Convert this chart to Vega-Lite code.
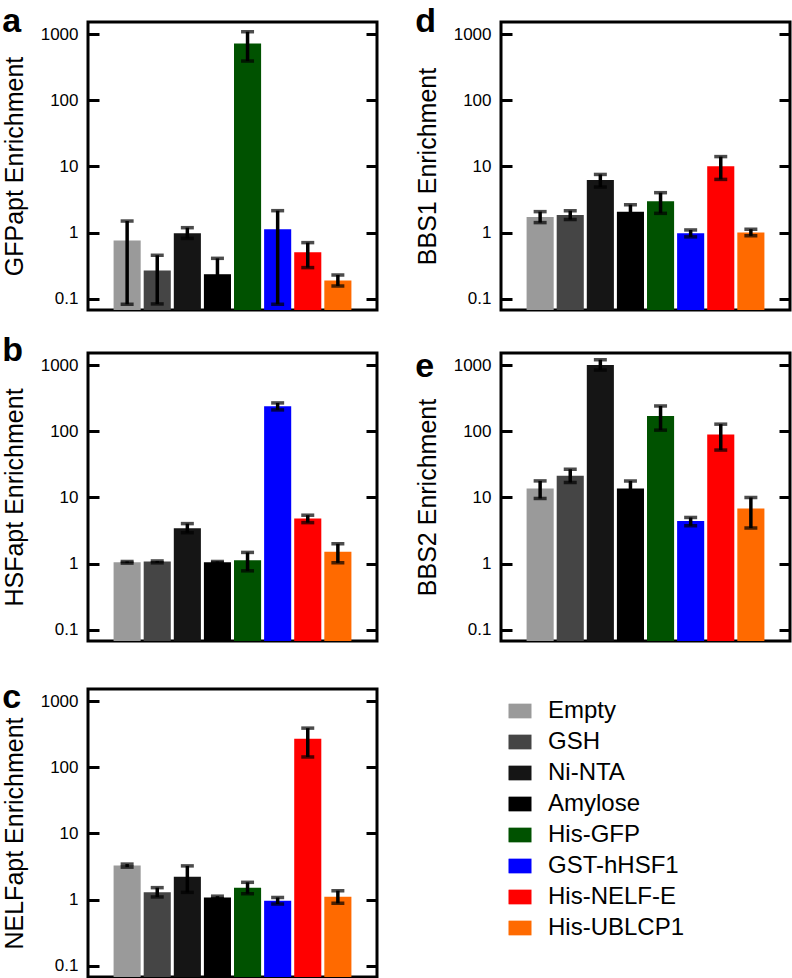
{
  "$schema": "https://vega.github.io/schema/vega-lite/v6.json",
  "background": "white",
  "padding": {"left": 0, "top": 3, "right": 0, "bottom": 0},
  "data": {"values": [
    {"panel": "a", "group": "Empty", "value": 0.76, "lo": 0.083, "hi": 1.5},
    {"panel": "a", "group": "GSH", "value": 0.268, "lo": 0.084, "hi": 0.456},
    {"panel": "a", "group": "Ni-NTA", "value": 0.98, "lo": 0.82, "hi": 1.19},
    {"panel": "a", "group": "Amylose", "value": 0.236, "lo": 0.14, "hi": 0.41},
    {"panel": "a", "group": "His-GFP", "value": 722, "lo": 391, "hi": 1084},
    {"panel": "a", "group": "GST-hHSF1", "value": 1.13, "lo": 0.083, "hi": 2.15},
    {"panel": "a", "group": "His-NELF-E", "value": 0.506, "lo": 0.297, "hi": 0.708},
    {"panel": "a", "group": "His-UBLCP1", "value": 0.189, "lo": 0.157, "hi": 0.23},
    {"panel": "b", "group": "Empty", "value": 1.05, "lo": 1.02, "hi": 1.08},
    {"panel": "b", "group": "GSH", "value": 1.08, "lo": 1.03, "hi": 1.1},
    {"panel": "b", "group": "Ni-NTA", "value": 3.42, "lo": 2.94, "hi": 4.03},
    {"panel": "b", "group": "Amylose", "value": 1.05, "lo": 1.03, "hi": 1.08},
    {"panel": "b", "group": "His-GFP", "value": 1.13, "lo": 0.78, "hi": 1.48},
    {"panel": "b", "group": "GST-hHSF1", "value": 238, "lo": 210, "hi": 268},
    {"panel": "b", "group": "His-NELF-E", "value": 4.8, "lo": 4.17, "hi": 5.4},
    {"panel": "b", "group": "His-UBLCP1", "value": 1.51, "lo": 1.03, "hi": 2.0},
    {"panel": "c", "group": "Empty", "value": 3.27, "lo": 3.1, "hi": 3.45},
    {"panel": "c", "group": "GSH", "value": 1.29, "lo": 1.1, "hi": 1.52},
    {"panel": "c", "group": "Ni-NTA", "value": 2.23, "lo": 1.29, "hi": 3.24},
    {"panel": "c", "group": "Amylose", "value": 1.08, "lo": 1.04, "hi": 1.13},
    {"panel": "c", "group": "His-GFP", "value": 1.52, "lo": 1.23, "hi": 1.83},
    {"panel": "c", "group": "GST-hHSF1", "value": 0.966, "lo": 0.86, "hi": 1.08},
    {"panel": "c", "group": "His-NELF-E", "value": 269, "lo": 143, "hi": 390},
    {"panel": "c", "group": "His-UBLCP1", "value": 1.11, "lo": 0.88, "hi": 1.37},
    {"panel": "d", "group": "Empty", "value": 1.73, "lo": 1.42, "hi": 2.08},
    {"panel": "d", "group": "GSH", "value": 1.85, "lo": 1.58, "hi": 2.15},
    {"panel": "d", "group": "Ni-NTA", "value": 6.23, "lo": 4.89, "hi": 7.58},
    {"panel": "d", "group": "Amylose", "value": 2.08, "lo": 1.63, "hi": 2.65},
    {"panel": "d", "group": "His-GFP", "value": 2.98, "lo": 1.96, "hi": 4.02},
    {"panel": "d", "group": "GST-hHSF1", "value": 0.98, "lo": 0.865, "hi": 1.1},
    {"panel": "d", "group": "His-NELF-E", "value": 10.1, "lo": 6.38, "hi": 14.1},
    {"panel": "d", "group": "His-UBLCP1", "value": 1.01, "lo": 0.896, "hi": 1.13},
    {"panel": "e", "group": "Empty", "value": 13.7, "lo": 9.66, "hi": 17.8},
    {"panel": "e", "group": "GSH", "value": 21.2, "lo": 16.8, "hi": 26.7},
    {"panel": "e", "group": "Ni-NTA", "value": 1000, "lo": 841, "hi": 1203},
    {"panel": "e", "group": "Amylose", "value": 13.7, "lo": 10.4, "hi": 17.8},
    {"panel": "e", "group": "His-GFP", "value": 170, "lo": 104, "hi": 241},
    {"panel": "e", "group": "GST-hHSF1", "value": 4.4, "lo": 3.74, "hi": 4.99},
    {"panel": "e", "group": "His-NELF-E", "value": 89, "lo": 52, "hi": 128},
    {"panel": "e", "group": "His-UBLCP1", "value": 6.82, "lo": 3.45, "hi": 10}
  ]},
  "resolve": {"scale": {"color": "shared"}, "legend": {"color": "shared"}},
  "spacing": 36,
  "vconcat": [
    {
      "spacing": 20,
      "resolve": {"scale": {"color": "shared"}, "legend": {"color": "shared"}},
      "vconcat": [
        {
          "spacing": 33,
          "resolve": {"scale": {"color": "shared"}, "legend": {"color": "shared"}},
          "hconcat": [
            {
              "title": {"text": "a", "offset": -14, "dy": 3},
              "width": 289, "height": 288,
              "transform": [{"filter": "datum.panel === 'a'"}],
              "encoding": {"x": {"field": "group", "type": "nominal", "sort": ["Empty","GSH","Ni-NTA","Amylose","His-GFP","GST-hHSF1","His-NELF-E","His-UBLCP1"], "axis": null, "scale": {"paddingInner": 0.1, "paddingOuter": 0.85}}},
              "resolve": {"axis": {"y": "independent"}},
              "layer": [
                {"mark": {"type": "bar"}, "encoding": {
                  "y": {"field": "value", "type": "quantitative", "scale": {"type": "log", "domain": [0.068, 1520], "nice": false}, "axis": {"orient": "left", "title": "GFPapt Enrichment", "values": [0.1, 1, 10, 100, 1000], "format": "~g"}},
                  "y2": {"datum": 0.068},
                  "color": {"field": "group", "type": "nominal", "scale": {"domain": ["Empty","GSH","Ni-NTA","Amylose","His-GFP","GST-hHSF1","His-NELF-E","His-UBLCP1"], "range": ["#9a9a9a","#454545","#151515","#000000","#005200","#0000ff","#ff0000","#ff6a00"]}, "legend": {"orient": "none", "legendX": 420, "legendY": 677}}}},
                {"mark": {"type": "rule", "strokeWidth": 3.5, "color": "black"}, "encoding": {
                  "y": {"field": "lo", "type": "quantitative", "axis": {"orient": "right", "labels": false, "title": null, "values": [0.1, 1, 10, 100, 1000]}}, "y2": {"field": "hi"}}},
                {"mark": {"type": "tick", "size": 13, "thickness": 3.5, "color": "black"}, "encoding": {"y": {"field": "lo", "type": "quantitative", "axis": null}}},
                {"mark": {"type": "tick", "size": 13, "thickness": 3.5, "color": "black"}, "encoding": {"y": {"field": "hi", "type": "quantitative", "axis": null}}}
              ]
            },
            {
              "title": {"text": "d", "offset": -14, "dy": 3},
              "width": 289, "height": 288,
              "transform": [{"filter": "datum.panel === 'd'"}],
              "encoding": {"x": {"field": "group", "type": "nominal", "sort": ["Empty","GSH","Ni-NTA","Amylose","His-GFP","GST-hHSF1","His-NELF-E","His-UBLCP1"], "axis": null, "scale": {"paddingInner": 0.1, "paddingOuter": 0.85}}},
              "resolve": {"axis": {"y": "independent"}},
              "layer": [
                {"mark": {"type": "bar"}, "encoding": {
                  "y": {"field": "value", "type": "quantitative", "scale": {"type": "log", "domain": [0.068, 1520], "nice": false}, "axis": {"orient": "left", "title": "BBS1 Enrichment", "values": [0.1, 1, 10, 100, 1000], "format": "~g"}},
                  "y2": {"datum": 0.068},
                  "color": {"field": "group", "type": "nominal", "scale": {"domain": ["Empty","GSH","Ni-NTA","Amylose","His-GFP","GST-hHSF1","His-NELF-E","His-UBLCP1"], "range": ["#9a9a9a","#454545","#151515","#000000","#005200","#0000ff","#ff0000","#ff6a00"]}, "legend": {"orient": "none", "legendX": 420, "legendY": 677}}}},
                {"mark": {"type": "rule", "strokeWidth": 3.5, "color": "black"}, "encoding": {
                  "y": {"field": "lo", "type": "quantitative", "axis": {"orient": "right", "labels": false, "title": null, "values": [0.1, 1, 10, 100, 1000]}}, "y2": {"field": "hi"}}},
                {"mark": {"type": "tick", "size": 13, "thickness": 3.5, "color": "black"}, "encoding": {"y": {"field": "lo", "type": "quantitative", "axis": null}}},
                {"mark": {"type": "tick", "size": 13, "thickness": 3.5, "color": "black"}, "encoding": {"y": {"field": "hi", "type": "quantitative", "axis": null}}}
              ]
            }
          ]
        },
        {
          "spacing": 33,
          "resolve": {"scale": {"color": "shared"}, "legend": {"color": "shared"}},
          "hconcat": [
            {
              "title": {"text": "b", "offset": -15},
              "width": 289, "height": 288,
              "transform": [{"filter": "datum.panel === 'b'"}],
              "encoding": {"x": {"field": "group", "type": "nominal", "sort": ["Empty","GSH","Ni-NTA","Amylose","His-GFP","GST-hHSF1","His-NELF-E","His-UBLCP1"], "axis": null, "scale": {"paddingInner": 0.1, "paddingOuter": 0.85}}},
              "resolve": {"axis": {"y": "independent"}},
              "layer": [
                {"mark": {"type": "bar"}, "encoding": {
                  "y": {"field": "value", "type": "quantitative", "scale": {"type": "log", "domain": [0.068, 1520], "nice": false}, "axis": {"orient": "left", "title": "HSFapt Enrichment", "values": [0.1, 1, 10, 100, 1000], "format": "~g"}},
                  "y2": {"datum": 0.068},
                  "color": {"field": "group", "type": "nominal", "scale": {"domain": ["Empty","GSH","Ni-NTA","Amylose","His-GFP","GST-hHSF1","His-NELF-E","His-UBLCP1"], "range": ["#9a9a9a","#454545","#151515","#000000","#005200","#0000ff","#ff0000","#ff6a00"]}, "legend": {"orient": "none", "legendX": 420, "legendY": 677}}}},
                {"mark": {"type": "rule", "strokeWidth": 3.5, "color": "black"}, "encoding": {
                  "y": {"field": "lo", "type": "quantitative", "axis": {"orient": "right", "labels": false, "title": null, "values": [0.1, 1, 10, 100, 1000]}}, "y2": {"field": "hi"}}},
                {"mark": {"type": "tick", "size": 13, "thickness": 3.5, "color": "black"}, "encoding": {"y": {"field": "lo", "type": "quantitative", "axis": null}}},
                {"mark": {"type": "tick", "size": 13, "thickness": 3.5, "color": "black"}, "encoding": {"y": {"field": "hi", "type": "quantitative", "axis": null}}}
              ]
            },
            {
              "title": {"text": "e", "offset": -31},
              "width": 289, "height": 288,
              "transform": [{"filter": "datum.panel === 'e'"}],
              "encoding": {"x": {"field": "group", "type": "nominal", "sort": ["Empty","GSH","Ni-NTA","Amylose","His-GFP","GST-hHSF1","His-NELF-E","His-UBLCP1"], "axis": null, "scale": {"paddingInner": 0.1, "paddingOuter": 0.85}}},
              "resolve": {"axis": {"y": "independent"}},
              "layer": [
                {"mark": {"type": "bar"}, "encoding": {
                  "y": {"field": "value", "type": "quantitative", "scale": {"type": "log", "domain": [0.068, 1520], "nice": false}, "axis": {"orient": "left", "title": "BBS2 Enrichment", "values": [0.1, 1, 10, 100, 1000], "format": "~g"}},
                  "y2": {"datum": 0.068},
                  "color": {"field": "group", "type": "nominal", "scale": {"domain": ["Empty","GSH","Ni-NTA","Amylose","His-GFP","GST-hHSF1","His-NELF-E","His-UBLCP1"], "range": ["#9a9a9a","#454545","#151515","#000000","#005200","#0000ff","#ff0000","#ff6a00"]}, "legend": {"orient": "none", "legendX": 420, "legendY": 677}}}},
                {"mark": {"type": "rule", "strokeWidth": 3.5, "color": "black"}, "encoding": {
                  "y": {"field": "lo", "type": "quantitative", "axis": {"orient": "right", "labels": false, "title": null, "values": [0.1, 1, 10, 100, 1000]}}, "y2": {"field": "hi"}}},
                {"mark": {"type": "tick", "size": 13, "thickness": 3.5, "color": "black"}, "encoding": {"y": {"field": "lo", "type": "quantitative", "axis": null}}},
                {"mark": {"type": "tick", "size": 13, "thickness": 3.5, "color": "black"}, "encoding": {"y": {"field": "hi", "type": "quantitative", "axis": null}}}
              ]
            }
          ]
        }
      ]
    },
    {
      "title": {"text": "c", "offset": -26},
      "width": 289, "height": 288,
      "transform": [{"filter": "datum.panel === 'c'"}],
      "encoding": {"x": {"field": "group", "type": "nominal", "sort": ["Empty","GSH","Ni-NTA","Amylose","His-GFP","GST-hHSF1","His-NELF-E","His-UBLCP1"], "axis": null, "scale": {"paddingInner": 0.1, "paddingOuter": 0.85}}},
      "resolve": {"axis": {"y": "independent"}},
      "layer": [
        {"mark": {"type": "bar"}, "encoding": {
          "y": {"field": "value", "type": "quantitative", "scale": {"type": "log", "domain": [0.068, 1520], "nice": false}, "axis": {"orient": "left", "title": "NELFapt Enrichment", "values": [0.1, 1, 10, 100, 1000], "format": "~g"}},
          "y2": {"datum": 0.068},
          "color": {"field": "group", "type": "nominal", "scale": {"domain": ["Empty","GSH","Ni-NTA","Amylose","His-GFP","GST-hHSF1","His-NELF-E","His-UBLCP1"], "range": ["#9a9a9a","#454545","#151515","#000000","#005200","#0000ff","#ff0000","#ff6a00"]}, "legend": {"orient": "none", "legendX": 420, "legendY": 677}}}},
        {"mark": {"type": "rule", "strokeWidth": 3.5, "color": "black"}, "encoding": {
          "y": {"field": "lo", "type": "quantitative", "axis": {"orient": "right", "labels": false, "title": null, "values": [0.1, 1, 10, 100, 1000]}}, "y2": {"field": "hi"}}},
        {"mark": {"type": "tick", "size": 13, "thickness": 3.5, "color": "black"}, "encoding": {"y": {"field": "lo", "type": "quantitative", "axis": null}}},
        {"mark": {"type": "tick", "size": 13, "thickness": 3.5, "color": "black"}, "encoding": {"y": {"field": "hi", "type": "quantitative", "axis": null}}}
      ]
    }
  ],
  "config": {
    "font": "Liberation Sans",
    "view": {"stroke": "black", "strokeWidth": 3},
    "title": {"anchor": "start", "frame": "bounds", "fontSize": 34, "fontWeight": "bold", "color": "black"},
    "axisY": {"offset": -11, "tickSize": 11, "tickWidth": 3, "tickColor": "black", "domain": false, "grid": false, "labelFontSize": 17, "labelColor": "black", "labelPadding": 10, "titleFontSize": 25, "titleFontWeight": "normal", "titleColor": "black", "titlePadding": 13},
    "legend": {"title": null, "symbolType": "M-1,-0.64H1V0.64H-1Z", "symbolSize": 529, "symbolStrokeWidth": 0, "symbolOpacity": 1, "labelFontSize": 24, "labelColor": "black", "labelOffset": 16, "rowPadding": 7, "padding": 0, "labelLimit": 300}
  }
}
